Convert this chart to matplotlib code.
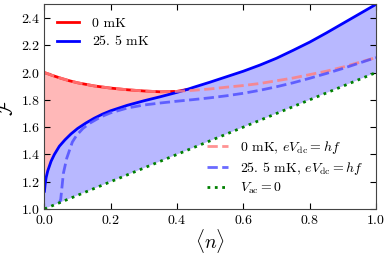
import numpy as np
import matplotlib
matplotlib.use('Agg')
import matplotlib.pyplot as plt

plt.rcParams['font.family'] = 'serif'
plt.rcParams['font.serif'] = ['cmr10']
plt.rcParams['mathtext.fontset'] = 'cm'
plt.rcParams['axes.formatter.use_mathtext'] = True

# 0 mK boundary (merges into the 25.5 mK curve near n=0.43)
n_red = [0.0, 0.025, 0.05, 0.075, 0.1, 0.15, 0.2, 0.25, 0.3, 0.35, 0.4, 0.43]
F_red = [2.0, 1.978, 1.958, 1.94, 1.925, 1.902, 1.886, 1.874, 1.865, 1.859,
         1.862, 1.876]

# 25.5 mK boundary
n_blue = [0.0, 0.002, 0.005, 0.01, 0.02, 0.03, 0.045, 0.062, 0.08, 0.1,
          0.125, 0.15, 0.175, 0.2, 0.25, 0.3, 0.35, 0.4, 0.43, 0.45, 0.5,
          0.55, 0.6, 0.65, 0.7, 0.75, 0.8, 0.85, 0.9, 0.95, 1.0]
F_blue = [1.13, 1.18, 1.23, 1.28, 1.35, 1.40, 1.46, 1.507, 1.55, 1.59,
          1.63, 1.665, 1.695, 1.72, 1.76, 1.793, 1.823, 1.855, 1.876, 1.892,
          1.93, 1.97, 2.01, 2.055, 2.105, 2.163, 2.223, 2.29, 2.36, 2.43, 2.5]

# 0 mK, eVdc = hf
n_red_dc = [0.0, 0.025, 0.05, 0.075, 0.1, 0.15, 0.2, 0.25, 0.3, 0.35, 0.4,
            0.45, 0.5, 0.55, 0.6, 0.65, 0.7, 0.75, 0.8, 0.85, 0.9, 0.95, 1.0]
F_red_dc = [2.0, 1.978, 1.958, 1.94, 1.925, 1.902, 1.886, 1.874, 1.865, 1.859,
            1.862, 1.87, 1.88, 1.893, 1.905, 1.92, 1.94, 1.96, 1.985, 2.01,
            2.04, 2.075, 2.11]

# 25.5 mK, eVdc = hf
n_blue_dc = [0.045, 0.049, 0.052, 0.057, 0.067, 0.084, 0.097, 0.116, 0.137,
             0.17, 0.2, 0.25, 0.3, 0.35, 0.4, 0.45, 0.5, 0.55, 0.6, 0.65,
             0.7, 0.75, 0.8, 0.85, 0.9, 0.95, 1.0]
F_blue_dc = [1.045, 1.07, 1.14, 1.26, 1.37, 1.49, 1.54, 1.59, 1.629,
             1.675, 1.705, 1.74, 1.762, 1.777, 1.79, 1.802, 1.815, 1.83, 1.848,
             1.87, 1.896, 1.925, 1.958, 1.993, 2.03, 2.07, 2.11]

# Vac = 0
n_vac = [0.0, 1.0]
F_vac = [1.0, 2.0]

fig = plt.figure(figsize=(3.9, 2.57), dpi=100)
ax = fig.add_axes([0.114, 0.187, 0.850, 0.796])

# shaded regions
nb_part = [x for x in n_blue if x <= n_red[-1]]
Fb_part = F_blue[:len(nb_part)]
ax.fill(np.concatenate([n_red, nb_part[::-1]]),
        np.concatenate([F_red, Fb_part[::-1]]),
        color='#ffb8b8', lw=0)
ax.fill(np.concatenate([n_blue, n_vac[::-1]]),
        np.concatenate([F_blue, F_vac[::-1]]),
        color='#b8b8ff', lw=0)

l1, = ax.plot(n_red, F_red, color='red', lw=2, label='0 mK')
l2, = ax.plot(n_blue, F_blue, color='blue', lw=2, label=r'$25.\,5$ mK')
l3, = ax.plot(n_red_dc, F_red_dc, '--', color='#ff8080', lw=2, alpha=0.85,
              label=r'0 mK, $eV_{\rm dc}=hf$')
l4, = ax.plot(n_blue_dc, F_blue_dc, '--', color='#5050ff', lw=2, alpha=0.85,
              label=r'$25.\,5$ mK, $eV_{\rm dc}=hf$')
l5, = ax.plot(n_vac, F_vac, ':', color='green', lw=2, label=r'$V_{\rm ac}=0$')

ax.set_xlim(0, 1)
ax.set_ylim(1.0, 2.5)
ax.set_xticks(np.arange(0, 1.01, 0.2))
ax.set_yticks(np.arange(1.0, 2.41, 0.2))
ax.tick_params(direction='in', top=True, right=True, labelsize=10, length=4)
ax.tick_params(axis='x', pad=3.5)
ax.tick_params(axis='y', pad=3)
for s in ax.spines.values():
    s.set_color('#444444')

ax.set_xlabel(r'$\langle n \rangle$', fontsize=14, labelpad=0)
ax.set_ylabel(r'$\mathcal{F}$', fontsize=14, labelpad=3)

leg1 = ax.legend(handles=[l1, l2], loc='upper left', frameon=False,
                 fontsize=10, handlelength=1.6, handletextpad=0.9,
                 labelspacing=0.35)
ax.add_artist(leg1)
ax.legend(handles=[l3, l4, l5], loc='lower right', frameon=False,
          fontsize=10, handlelength=1.5, handletextpad=0.9,
          labelspacing=0.3)

fig.savefig('out.png', dpi=100)
